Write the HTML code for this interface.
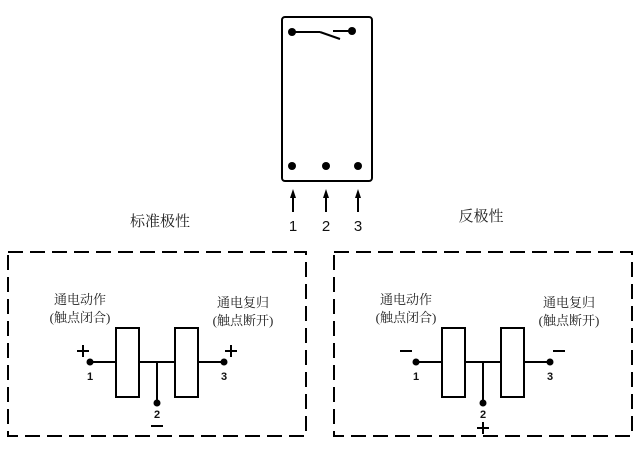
<!DOCTYPE html>
<html><head><meta charset="utf-8"><style>
body{margin:0;background:#fff}
svg text{font-family:"Liberation Sans","Noto Sans CJK SC",sans-serif;fill:#111}
svg text.cn{font-family:"Liberation Serif","Noto Serif CJK SC",serif;fill:#222}
</style></head><body>
<svg width="640" height="446" viewBox="0 0 640 446" xmlns="http://www.w3.org/2000/svg">
<defs>
<g id="panel" stroke="#000" stroke-width="2" fill="none">
  <rect x="8" y="252" width="298" height="184" stroke-dasharray="15,7"/>
  <line x1="90" y1="362" x2="116" y2="362"/>
  <rect x="116" y="328" width="23" height="69" fill="#fff"/>
  <line x1="139" y1="362" x2="175" y2="362"/>
  <rect x="175" y="328" width="23" height="69" fill="#fff"/>
  <line x1="198" y1="362" x2="224" y2="362"/>
  <line x1="157" y1="362" x2="157" y2="403"/>
  <circle cx="90" cy="362" r="3.5" fill="#000" stroke="none"/>
  <circle cx="224" cy="362" r="3.5" fill="#000" stroke="none"/>
  <circle cx="157" cy="403" r="3.5" fill="#000" stroke="none"/>
</g>
</defs>
<g stroke="#000" stroke-width="2" fill="none">
  <rect x="282" y="17" width="90" height="164" rx="3"/>
  <line x1="292" y1="32" x2="320" y2="32"/>
  <line x1="320" y1="32" x2="340" y2="39"/>
  <line x1="333" y1="31" x2="352" y2="31"/>
  <line x1="293" y1="196" x2="293" y2="212"/>
  <line x1="326" y1="196" x2="326" y2="212"/>
  <line x1="358" y1="196" x2="358" y2="212"/>
</g>
<g fill="#000">
  <circle cx="292" cy="32" r="4"/><circle cx="352" cy="31" r="4"/>
  <circle cx="292" cy="166" r="4"/><circle cx="326" cy="166" r="4"/><circle cx="358" cy="166" r="4"/>
  <polygon points="293,189 290,198 296,198"/>
  <polygon points="326,189 323,198 329,198"/>
  <polygon points="358,189 355,198 361,198"/>
</g>
<g font-size="15" text-anchor="middle">
  <text x="293" y="231">1</text><text x="326" y="231">2</text><text x="358" y="231">3</text>
</g>
<text class="cn" x="160" y="226" font-size="15" text-anchor="middle">标准极性</text>
<text class="cn" x="481" y="221" font-size="15" text-anchor="middle">反极性</text>

<use href="#panel"/>
<use href="#panel" x="326"/>

<g font-size="13" text-anchor="middle">
  <text class="cn" x="80" y="304">通电动作</text>
  <text class="cn" x="80" y="322">(触点闭合)</text>
  <text class="cn" x="243" y="307">通电复归</text>
  <text class="cn" x="243" y="325">(触点断开)</text>
  <text class="cn" x="406" y="304">通电动作</text>
  <text class="cn" x="406" y="322">(触点闭合)</text>
  <text class="cn" x="569" y="307">通电复归</text>
  <text class="cn" x="569" y="325">(触点断开)</text>
</g>
<g font-size="11" font-weight="bold" text-anchor="middle">
  <text x="90" y="380">1</text><text x="224" y="380">3</text><text x="157" y="418">2</text>
  <text x="416" y="380">1</text><text x="550" y="380">3</text><text x="483" y="418">2</text>
</g>
<g stroke="#000" stroke-width="2">
  <line x1="77" y1="351" x2="89" y2="351"/><line x1="83" y1="345" x2="83" y2="357"/>
  <line x1="225" y1="351" x2="237" y2="351"/><line x1="231" y1="345" x2="231" y2="357"/>
  <line x1="151" y1="426" x2="163" y2="426"/>
  <line x1="400" y1="351" x2="412" y2="351"/>
  <line x1="553" y1="351" x2="565" y2="351"/>
  <line x1="477" y1="428" x2="489" y2="428"/><line x1="483" y1="422" x2="483" y2="434"/>
</g>
</svg>
</body></html>
